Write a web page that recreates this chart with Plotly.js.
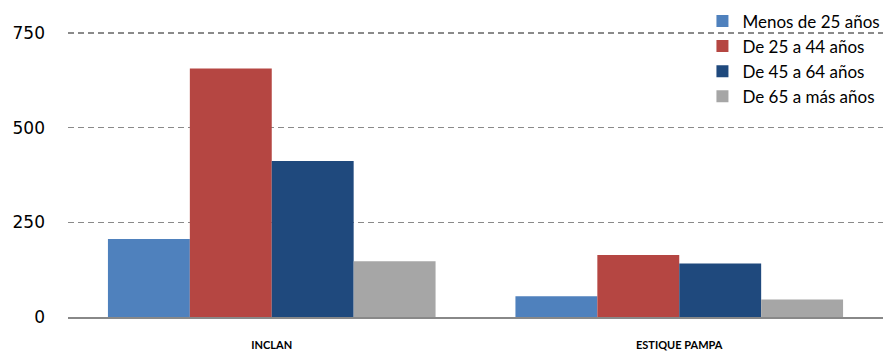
<!DOCTYPE html>
<html><head><meta charset="utf-8">
<script src="https://cdn.plot.ly/plotly-3.0.1.min.js"></script>
<style>body{margin:0;background:#fff}#c{width:888px;height:352px}</style>
</head><body><div id="c"></div>
<script>
const categories = ["INCLAN", "ESTIQUE PAMPA"];
const seriesNames = ["Menos de 25 años", "De 25 a 44 años", "De 45 a 64 años", "De 65 a más años"];
const menos25 = [206, 55];
const de25a44 = [656, 164];
const de45a64 = [412, 141];
const de65mas = [147, 46];
const tickVals = [0, 250, 500, 750];
const colors = ["#4F81BD", "#B54642", "#1F497D", "#A6A6A6"];

const values = [menos25, de25a44, de45a64, de65mas];
const traces = values.map((v, i) => ({
  type: "bar", x: categories, y: v, name: seriesNames[i],
  marker: {color: colors[i], line: {width: 0}}
}));

const layout = {
  width: 888, height: 352,
  margin: {l: 68, r: 3, t: 13, b: 35},
  paper_bgcolor: "#fff", plot_bgcolor: "#fff",
  barmode: "group", bargap: 0.196, bargroupgap: 0,
  font: {family: "Lato, 'Open Sans', sans-serif", color: "#000"},
  xaxis: {
    showline: true, linecolor: "#888", linewidth: 2, ticks: "",
    ticklabelstandoff: 17,
    tickfont: {size: 11, family: "Lato, sans-serif", weight: "bold"},
    showgrid: false, fixedrange: true
  },
  yaxis: {
    range: [0, 800], tickvals: tickVals, ticktext: tickVals.map(String),
    showgrid: true, gridcolor: "#8a8a8a", griddash: "6px,4px", gridwidth: 1.5,
    zeroline: false, showline: false, ticks: "", ticklabelstandoff: 22,
    tickfont: {size: 17, family: "'DejaVu Sans', sans-serif"}
  },
  showlegend: true,
  legend: {
    x: 1.003, xanchor: "right", y: 1.035, yanchor: "top",
    bgcolor: "rgba(0,0,0,0)", font: {size: 17, family: "Lato, sans-serif"},
    itemwidth: 20, tracegroupgap: 0
  }
};
Plotly.newPlot("c", traces, layout, {displayModeBar: false, staticPlot: true});
</script></body></html>
